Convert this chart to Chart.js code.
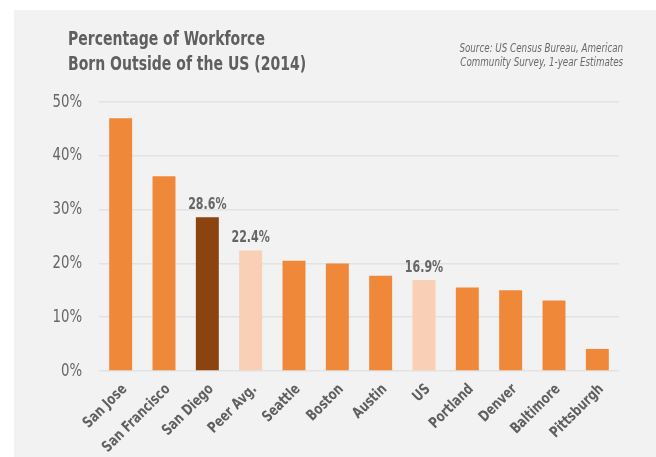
<!DOCTYPE html>
<html>
<head>
<meta charset="utf-8">
<script src="https://cdn.jsdelivr.net/npm/chart.js@4.4.1/dist/chart.umd.min.js"></script>
<style>
  html, body { margin: 0; padding: 0; background: #fff; }
  #wrap { position: relative; width: 656px; height: 457px; }
  #panel { position: absolute; left: 14px; top: 10px; right: 0; bottom: 0; background: #f2f2f2; }
  #chart { position: absolute; left: 0; top: 0; }
  .title { position: absolute; left: 68px; top: 26px; font-family: "DejaVu Sans Condensed", sans-serif;
           font-weight: bold; font-size: 19px; line-height: 25px; color: #5f5f5f;
           transform: scaleX(0.82); transform-origin: left top; white-space: nowrap; }
  .source { position: absolute; right: 33px; top: 41px; font-family: "DejaVu Sans Condensed", sans-serif;
            font-style: italic; font-size: 12px; line-height: 14px; color: #6a6a6a; text-align: right;
            transform: scaleX(0.81); transform-origin: right top; white-space: nowrap; }
</style>
</head>
<body>
<div id="wrap">
  <div id="panel"></div>
  <canvas id="chart" width="656" height="457"></canvas>
  <div class="title">Percentage of Workforce<br>Born Outside of the US (2014)</div>
  <div class="source">Source: US Census Bureau, American<br>Community Survey, 1-year Estimates</div>
</div>
<script>
// Share of workforce born outside the US, 2014
const cities = ["San Jose", "San Francisco", "San Diego", "Peer Avg.", "Seattle", "Boston",
                "Austin", "US", "Portland", "Denver", "Baltimore", "Pittsburgh"];
const shares = [47.0, 36.2, 28.6, 22.4, 20.5, 20.0, 17.7, 16.9, 15.5, 15.0, 13.1, 4.1];
const yTicks = [0, 10, 20, 30, 40, 50];
// bars that get a value label on top
const labelled = ["San Diego", "Peer Avg.", "US"];

const barColors = cities.map(function(c) {
    if (c === "San Diego") return "#8b4410";
    if (c === "Peer Avg." || c === "US") return "#f9cfb5";
    return "#f0883a";
});

const font = "'DejaVu Sans Condensed', sans-serif";

// narrow-ish text: the original uses a condensed DIN face, so squeeze horizontally
function squeezed(ctx, text, x, y, opts) {
    ctx.save();
    ctx.translate(x, y);
    if (opts.rotate) ctx.rotate(opts.rotate);
    ctx.scale(opts.squeeze || 1, 1);
    ctx.font = opts.font;
    ctx.fillStyle = opts.color;
    ctx.textAlign = opts.align || "left";
    ctx.textBaseline = opts.baseline || "alphabetic";
    ctx.fillText(text, 0, 0);
    ctx.restore();
}

const textLayer = {
    id: "textLayer",
    afterDatasetsDraw(chart) {
        const ctx = chart.ctx;
        const x = chart.scales.x, y = chart.scales.y;
        const meta = chart.getDatasetMeta(0);

        // y tick labels
        yTicks.forEach(function(v) {
            squeezed(ctx, v + "%", 82, y.getPixelForValue(v), {
                font: "18px " + font, color: "#666", align: "right", baseline: "middle", squeeze: 0.82
            });
        });

        // rotated category labels
        cities.forEach(function(c, i) {
            const px = x.getPixelForValue(i);
            squeezed(ctx, c, px + 4, y.bottom + 16, {
                font: "bold 15px " + font, color: "#5f5f5f", align: "right", baseline: "middle",
                squeeze: 0.85, rotate: -Math.PI / 4
            });
        });

        // value labels above highlighted bars
        cities.forEach(function(c, i) {
            if (labelled.indexOf(c) < 0) return;
            const bar = meta.data[i];
            squeezed(ctx, shares[i].toFixed(1) + "%", bar.x, bar.y - 8, {
                font: "bold 15px " + font, color: "#666", align: "center", squeeze: 0.82
            });
        });
    }
};

new Chart(document.getElementById("chart"), {
    type: "bar",
    data: {
        labels: cities,
        datasets: [{
            data: shares,
            backgroundColor: barColors,
            borderWidth: 0,
            categoryPercentage: 1,
            barPercentage: 0.53
        }]
    },
    options: {
        responsive: false,
        animation: false,
        layout: { padding: { top: 102, right: 37, left: 0, bottom: 0 } },
        plugins: { legend: { display: false }, tooltip: { enabled: false } },
        scales: {
            y: {
                min: 0,
                max: 50,
                afterFit: function(s) { s.width = 99; },
                afterBuildTicks: function(s) { s.ticks = yTicks.map(function(v) { return { value: v }; }); },
                ticks: { display: false },
                grid: { color: "#e2e2e2", lineWidth: 1.5, drawTicks: false },
                border: { display: false }
            },
            x: {
                afterFit: function(s) { s.height = 86; },
                ticks: { display: false },
                grid: { display: false },
                border: { display: false }
            }
        }
    },
    plugins: [textLayer]
});
</script>
</body>
</html>
